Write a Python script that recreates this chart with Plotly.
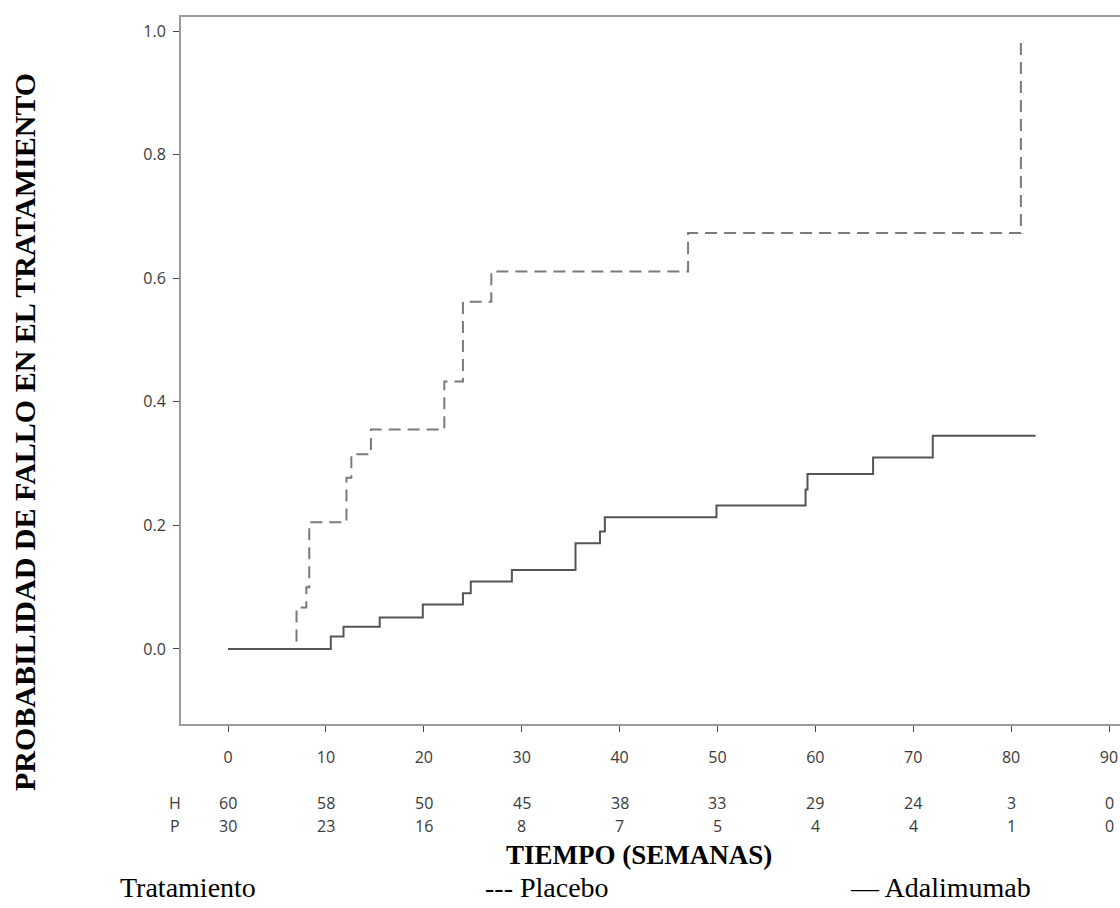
import plotly.graph_objects as go

# --- data ---
placebo_t = [0, 7.0, 8.0, 8.3, 12.1, 12.6, 14.6, 22.1, 24.0, 26.9, 47.0, 81.0]
placebo_p = [0, 0.067, 0.10, 0.205, 0.277, 0.315, 0.355, 0.433, 0.562, 0.611, 0.673, 0.99]

ada_t = [0, 10.5, 11.8, 15.5, 19.9, 24.0, 24.8, 29.0, 35.5, 38.0, 38.5, 49.9, 59.0, 59.2, 65.9, 72.0, 82.5]
ada_p = [0, 0.02, 0.036, 0.051, 0.072, 0.09, 0.109, 0.128, 0.171, 0.19, 0.213, 0.232, 0.258, 0.283, 0.31, 0.345, 0.345]

risk_times = [0, 10, 20, 30, 40, 50, 60, 70, 80, 90]
risk_H = [60, 58, 50, 45, 38, 33, 29, 24, 3, 0]
risk_P = [30, 23, 16, 8, 7, 5, 4, 4, 1, 0]

y_ticks = [0.0, 0.2, 0.4, 0.6, 0.8, 1.0]
y_ticklabels = ["0.0", "0.2", "0.4", "0.6", "0.8", "1.0"]
x_ticks = [0, 10, 20, 30, 40, 50, 60, 70, 80, 90]

# page body margin is removed (post_script), so figure px == window px
W, H = 1120, 908
ML, MR, MT, MB = 181, 0, 17, 908 - 724
PW, PH = W - ML - MR, H - MT - MB


def px_x(xp):
    return (xp - ML) / PW


def px_y(yp):
    return (H - MB - yp) / PH


# x range so that 0 -> 228 px and 90 -> 1109 px
x0_px, x90_px = 228, 1109
ppu = (x90_px - x0_px) / 90.0
x_lo = (ML - x0_px) / ppu
x_hi = (ML + PW - x0_px) / ppu

fig = go.Figure()
fig.add_trace(go.Scatter(x=placebo_t, y=placebo_p, mode="lines", line_shape="hv",
                         line=dict(color="#7a7a7a", width=2, dash="12px,7px"),
                         name="Placebo", showlegend=False, hoverinfo="skip"))
fig.add_trace(go.Scatter(x=ada_t, y=ada_p, mode="lines", line_shape="hv",
                         line=dict(color="#555555", width=2),
                         name="Adalimumab", showlegend=False, hoverinfo="skip"))

tickfont = dict(family="Open Sans", size=16, color="#3a3a3a")
serif = "Liberation Serif"

ann = []
# number at risk table
for t, h, p in zip(risk_times, risk_H, risk_P):
    ann.append(dict(x=t, y=px_y(803), xref="x", yref="paper", text=str(h),
                    showarrow=False, font=tickfont, xanchor="center", yanchor="middle"))
    ann.append(dict(x=t, y=px_y(826), xref="x", yref="paper", text=str(p),
                    showarrow=False, font=tickfont, xanchor="center", yanchor="middle"))
ann.append(dict(x=px_x(175), y=px_y(803), xref="paper", yref="paper", text="H",
                showarrow=False, font=tickfont, xanchor="center", yanchor="middle"))
ann.append(dict(x=px_x(175), y=px_y(826), xref="paper", yref="paper", text="P",
                showarrow=False, font=tickfont, xanchor="center", yanchor="middle"))
# titles
ann.append(dict(x=px_x(639), y=px_y(855), xref="paper", yref="paper",
                text="<b>TIEMPO (SEMANAS)</b>", showarrow=False,
                font=dict(family=serif, size=27, color="#000000"),
                xanchor="center", yanchor="middle"))
ann.append(dict(x=px_x(25), y=px_y(432), xref="paper", yref="paper",
                text="<b>PROBABILIDAD DE FALLO EN EL TRATAMIENTO</b>", showarrow=False,
                textangle=-90, font=dict(family=serif, size=30, color="#000000"),
                xanchor="center", yanchor="middle"))
legfont = dict(family=serif, size=28, color="#000000")
ann.append(dict(x=px_x(118), y=px_y(887), xref="paper", yref="paper", text="Tratamiento",
                showarrow=False, font=legfont, xanchor="left", yanchor="middle"))
ann.append(dict(x=px_x(483), y=px_y(887), xref="paper", yref="paper", text="--- Placebo",
                showarrow=False, font=legfont, xanchor="left", yanchor="middle"))
ann.append(dict(x=px_x(848), y=px_y(887), xref="paper", yref="paper", text="—\u2009Adalimumab",
                showarrow=False, font=legfont, xanchor="left", yanchor="middle"))

fig.update_layout(
    width=W, height=H,
    margin=dict(l=ML, r=MR, t=MT, b=MB, pad=0),
    paper_bgcolor="white", plot_bgcolor="white",
    annotations=ann,
    xaxis=dict(range=[x_lo, x_hi], tickmode="array", tickvals=x_ticks,
               ticks="outside", ticklen=6, tickcolor="#444444", tickwidth=1,
               showline=True, linecolor="#9a9a9a", linewidth=2, mirror=True,
               showgrid=False, zeroline=False, tickfont=tickfont,
               ticklabelstandoff=12, ticklabeloverflow="allow", automargin=False),
    yaxis=dict(range=[-0.1214, 1.0227], tickmode="array", tickvals=y_ticks,
               ticktext=y_ticklabels,
               ticks="outside", ticklen=6, tickcolor="#444444", tickwidth=1,
               showline=True, linecolor="#9a9a9a", linewidth=2,
               showgrid=False, zeroline=False, tickfont=tickfont,
               ticklabelstandoff=4, automargin=False),
)

fig.write_html(
    "out.html",
    config={"displayModeBar": False},
    post_script="document.body.style.margin='0px';document.body.style.overflow='hidden';",
)
